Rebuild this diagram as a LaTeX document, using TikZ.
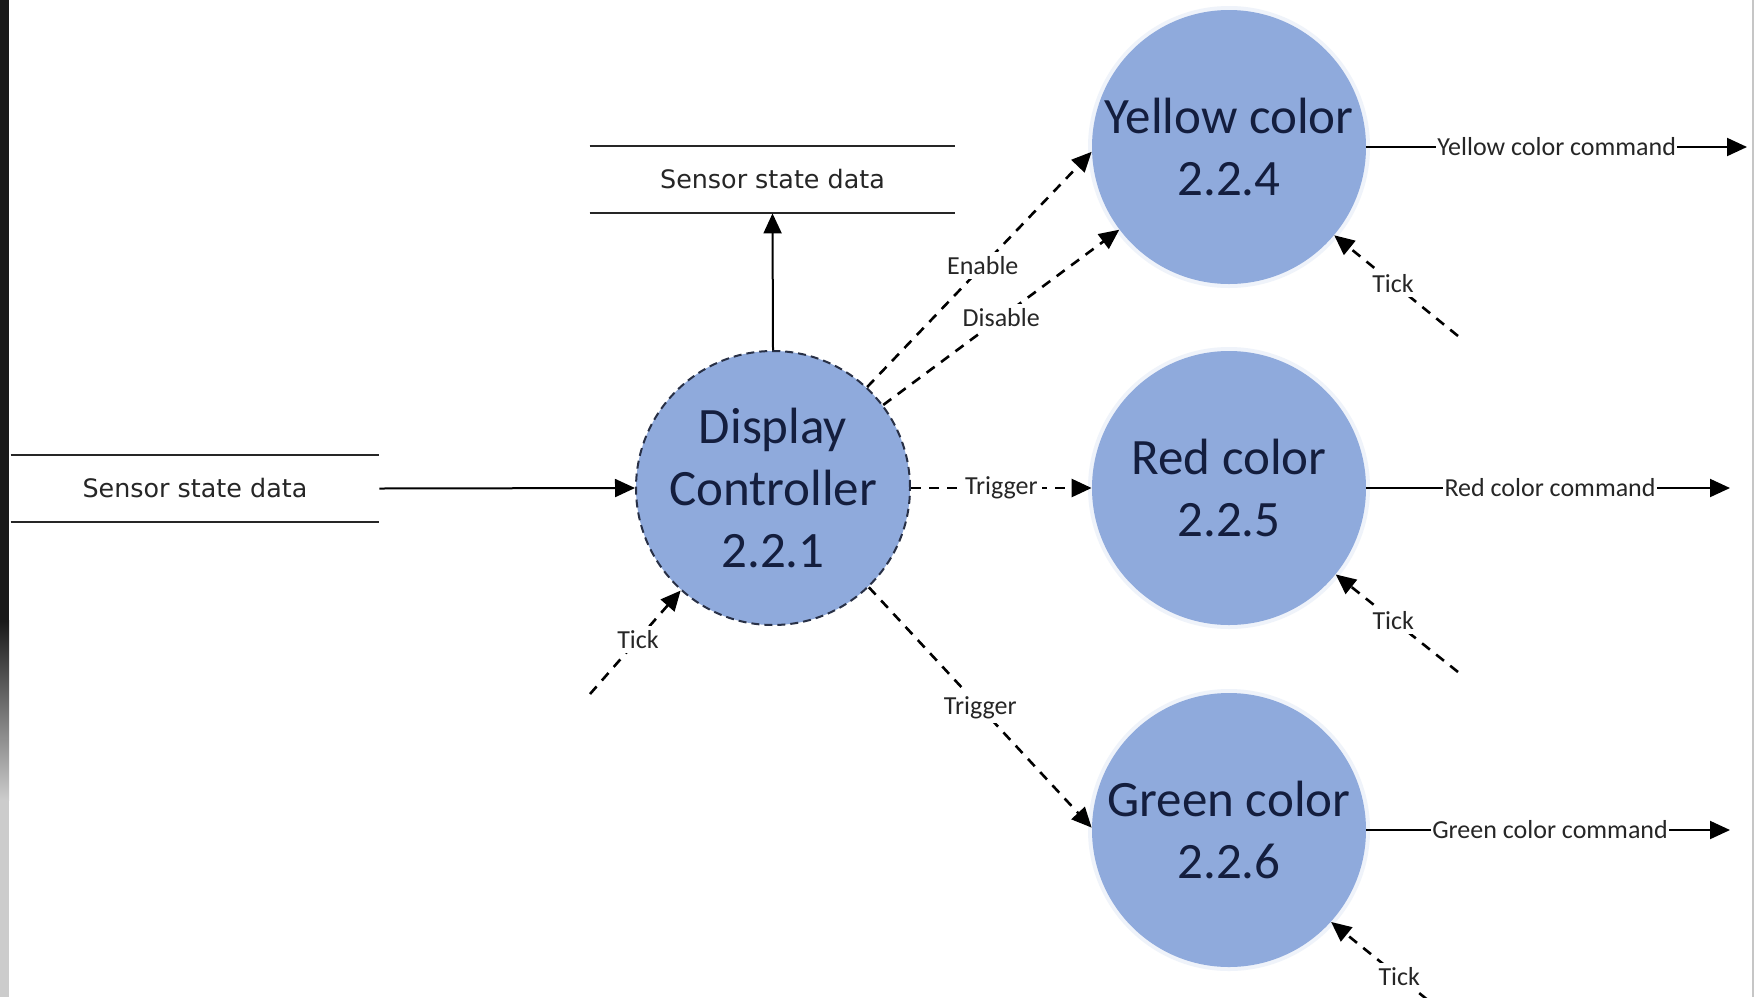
\documentclass[tikz,border=0pt]{standalone}
\usepackage{fontspec}
\setmainfont{Carlito}
\newfontfamily\storefont{DejaVu Sans}
\usetikzlibrary{arrows.meta}
\definecolor{bubble}{RGB}{143,170,220}
\definecolor{bubbletext}{RGB}{20,30,62}
\definecolor{rimline}{RGB}{40,48,70}
\tikzset{
  process/.style={circle, fill=bubble, minimum size=137pt, inner sep=0pt,
    align=center, text=bubbletext, font=\fontsize{25.5}{31}\selectfont},
  dashedprocess/.style={process, draw=rimline, line width=1pt,
    dash pattern=on 4pt off 2.5pt},
  datastore/.style={minimum width=184pt, minimum height=33.5pt, inner sep=0pt,
    text=black!85, font=\storefont\fontsize{12.7}{15}\selectfont},
  storeline/.style={line width=1pt, black!85},
  flow/.style={line width=1pt, -{Triangle[length=10pt,width=9pt]}},
  dflow/.style={flow, line width=1.3pt, dash pattern=on 5pt off 4pt},
  lbl/.style={fill=white, inner sep=0.6pt, text=black!85,
    font=\fontsize{13}{15}\selectfont},
  dlbl/.style={lbl, inner sep=2.2pt},
  glow/.style={fill=bubble!14}
}
\begin{document}
\begin{tikzpicture}[x=0.5pt,y=-0.5pt]
\useasboundingbox (0,0) rectangle (1756,997);
\clip (0,0) rectangle (1756,997);
\fill[white] (0,0) rectangle (1756,997);

% screen frame edges
\fill[black!90] (0,0) rectangle (9,620);
\shade[top color=black!90, bottom color=gray!40] (0,620) rectangle (9,800);
\fill[gray!40] (0,800) rectangle (9,997);
\draw[gray!45, line width=1pt] (1753,0) -- (1753,997);

% soft rims of the colour processes
\fill[glow] (1229,147) circle[radius=141];
\fill[glow] (1229,488) circle[radius=141];
\fill[glow] (1229,830) circle[radius=141];

% processes
\node[dashedprocess] (ctrl) at (773,488) {Display\\Controller\\2.2.1};
\node[process] (yel) at (1229,147) {Yellow color\\2.2.4};
\node[process] (red) at (1229,488) {Red color\\2.2.5};
\node[process] (grn) at (1229,830) {Green color\\2.2.6};

% data stores
\node[datastore] (instore) at (195,488.5) {Sensor state data};
\draw[storeline] (instore.north west) -- (instore.north east);
\draw[storeline] (instore.south west) -- (instore.south east);
\node[datastore, minimum width=182.5pt] (outstore) at (772.5,179.5) {Sensor state data};
\draw[storeline] (outstore.north west) -- (outstore.north east);
\draw[storeline] (outstore.south west) -- (outstore.south east);

% free ends
\coordinate (yelout) at (1747,147);
\coordinate (redout) at (1730,488);
\coordinate (grnout) at (1730,830);
\coordinate (tickc) at (590,694);
\coordinate (ticky) at (1458,336);
\coordinate (tickr) at (1458,672);
\coordinate (tickg) at (1455,1022);

% data flows
\draw[flow] (instore.east) -- (ctrl.west);
\draw[flow] (ctrl.north) -- (outstore.south);
\draw[flow] (yel.east) -- node[lbl, pos=0.5] {Yellow color command} (yelout);
\draw[flow] (red.east) -- node[lbl, pos=0.505] {Red color command} (redout);
\draw[flow] (grn.east) -- node[lbl, pos=0.505] {Green color command} (grnout);

% control flows
\draw[dflow] (ctrl.47) -- node[dlbl, pos=0.515] {Enable} (yel.182);
\draw[dflow] (ctrl.37) -- node[dlbl, pos=0.5] {Disable} (yel.217);
\draw[dflow] (ctrl.east) -- node[lbl, pos=0.5, inner xsep=2pt] {Trigger} (red.west);
\draw[dflow] (ctrl.-46.5) -- node[dlbl, pos=0.5] {Trigger} (grn.179);
\draw[dflow] (tickc) -- node[dlbl, pos=0.53] {Tick} (ctrl.228);
\draw[dflow] (ticky) -- node[dlbl, pos=0.525] {Tick} (yel.-40);
\draw[dflow] (tickr) -- node[dlbl, pos=0.53] {Tick} (red.-39);
\draw[dflow] (tickg) -- node[dlbl, pos=0.45] {Tick} (grn.-42);
\end{tikzpicture}
\end{document}
